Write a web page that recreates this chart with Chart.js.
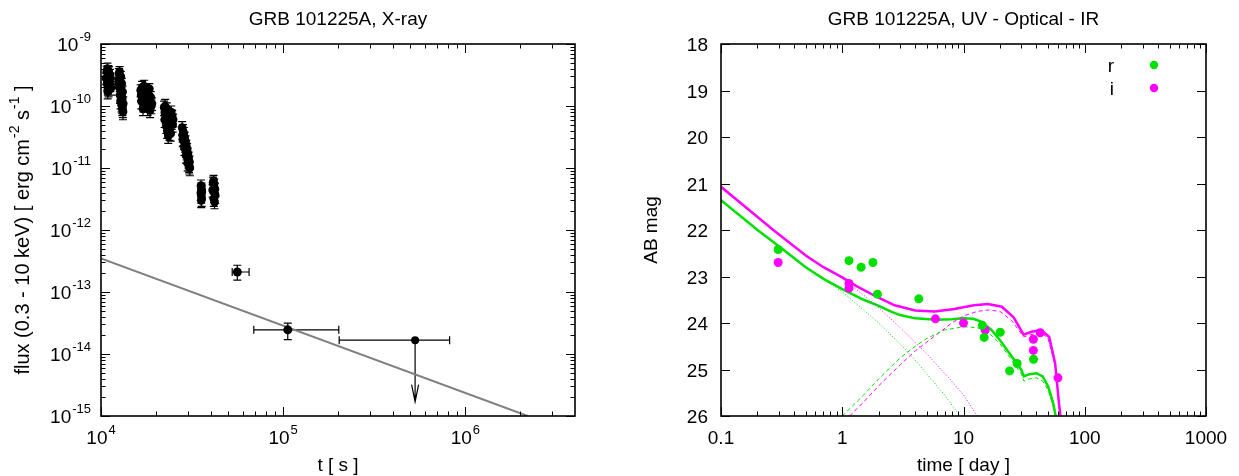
<!DOCTYPE html>
<html><head><meta charset="utf-8">
<script src="https://cdn.jsdelivr.net/npm/chart.js@4.4.1/dist/chart.umd.min.js"></script>
<style>
html,body{margin:0;padding:0;background:#fff;width:1239px;height:476px;overflow:hidden}
canvas{position:absolute;top:0}
#c1{left:0}
#c2{left:620px}
</style></head><body>
<canvas id="c1" width="620" height="476"></canvas>
<canvas id="c2" width="619" height="476"></canvas>
<script>
// ================= X-ray panel data =================
const blob1T=[10650,10750,10800,10850,10900,10950,11000,11050,11100,11150,11200,11250,11300,11350,10780,10880,10980,11080,11180,11280];
const blob1F=[2.8e-10,3.6e-10,2.3e-10,4.0e-10,2.0e-10,3.1e-10,1.8e-10,3.5e-10,2.6e-10,1.9e-10,3.2e-10,2.2e-10,2.8e-10,2.0e-10,2.9e-10,1.7e-10,3.7e-10,2.4e-10,2.7e-10,1.9e-10];
const blob1E=[0.6e-10,0.8e-10,0.5e-10,0.9e-10,0.5e-10,0.7e-10,0.4e-10,0.8e-10,0.6e-10,0.4e-10,0.7e-10,0.5e-10,0.6e-10,0.5e-10,0.6e-10,0.4e-10,0.8e-10,0.5e-10,0.6e-10,0.4e-10];
const blob2T=[12500,12550,12600,12650,12700,12750,12800,12850,12900,12950,13000,13050,13100,13150,13200,13250,12580,12680,12780,12880,12980,13080,13180];
const blob2F=[2.4e-10,3.3e-10,2.0e-10,3.6e-10,1.5e-10,2.6e-10,1.2e-10,3.0e-10,1.8e-10,1.1e-10,2.3e-10,1.4e-10,0.9e-10,1.7e-10,0.8e-10,1.1e-10,2.7e-10,2.2e-10,1.9e-10,1.3e-10,1.6e-10,1.0e-10,0.85e-10];
const blob2E=[0.5e-10,0.7e-10,0.5e-10,0.7e-10,0.4e-10,0.6e-10,0.3e-10,0.6e-10,0.4e-10,0.3e-10,0.5e-10,0.3e-10,0.2e-10,0.4e-10,0.2e-10,0.3e-10,0.6e-10,0.5e-10,0.4e-10,0.3e-10,0.4e-10,0.25e-10,0.2e-10];
const blob3T=[16500,16650,16800,16950,17100,17250,17400,17550,17700,17850,18000,18150,18300,18450,18600,18750,18900,19050,16600,17000,17400,17800,18200,18600];
const blob3F=[1.8e-10,1.2e-10,2.0e-10,1.4e-10,1.0e-10,2.1e-10,1.5e-10,1.1e-10,1.8e-10,1.3e-10,0.9e-10,1.6e-10,1.2e-10,1.9e-10,0.85e-10,1.4e-10,1.0e-10,1.1e-10,1.5e-10,0.9e-10,1.7e-10,1.0e-10,1.3e-10,1.2e-10];
const blob3E=[0.4e-10,0.3e-10,0.5e-10,0.3e-10,0.2e-10,0.5e-10,0.3e-10,0.25e-10,0.4e-10,0.3e-10,0.2e-10,0.35e-10,0.3e-10,0.4e-10,0.2e-10,0.3e-10,0.25e-10,0.25e-10,0.3e-10,0.2e-10,0.4e-10,0.2e-10,0.3e-10,0.3e-10];
const blob4T=[22200,22350,22500,22650,22800,22950,23100,23250,23400,23550,23700,23850,24000,24150,24300,24450,24600,24750,24900,22400,22900,23300,23800,24400];
const blob4F=[0.95e-10,0.6e-10,1.0e-10,0.7e-10,0.48e-10,0.9e-10,0.4e-10,0.75e-10,0.33e-10,0.55e-10,0.42e-10,0.65e-10,0.5e-10,0.36e-10,0.8e-10,0.55e-10,0.68e-10,0.5e-10,0.6e-10,0.8e-10,0.58e-10,0.45e-10,0.38e-10,0.7e-10];
const blob4E=[0.25e-10,0.15e-10,0.28e-10,0.17e-10,0.12e-10,0.22e-10,0.1e-10,0.18e-10,0.08e-10,0.13e-10,0.1e-10,0.16e-10,0.12e-10,0.09e-10,0.2e-10,0.13e-10,0.16e-10,0.12e-10,0.14e-10,0.2e-10,0.14e-10,0.11e-10,0.1e-10,0.17e-10];
const blob5T=[27900,28050,28200,28350,28500,28650,28800,28950,29100,29250,29400,29550,29700,29850,30000,30150,30300,30450,30600,30750,28100,28700,29300,29900,30500];
const blob5F=[4.5e-11,3.4e-11,4.0e-11,3.0e-11,3.6e-11,2.6e-11,3.1e-11,2.3e-11,2.7e-11,2.0e-11,2.3e-11,1.75e-11,2.0e-11,1.5e-11,1.7e-11,1.3e-11,1.45e-11,1.1e-11,1.25e-11,1.0e-11,2.9e-11,2.1e-11,1.6e-11,1.2e-11,1.05e-11];
const blob5E=[1.1e-11,0.8e-11,1.0e-11,0.7e-11,0.9e-11,0.6e-11,0.7e-11,0.5e-11,0.6e-11,0.5e-11,0.5e-11,0.4e-11,0.5e-11,0.35e-11,0.4e-11,0.3e-11,0.35e-11,0.25e-11,0.3e-11,0.25e-11,0.7e-11,0.5e-11,0.4e-11,0.3e-11,0.25e-11];
const blob6T=[35300,35400,35500,35600,35700,35800,35500,35650];
const blob6F=[4.0e-12,5.2e-12,3.6e-12,4.6e-12,3.2e-12,4.1e-12,3.0e-12,4.4e-12];
const blob6E=[1.0e-12,1.2e-12,0.9e-12,1.1e-12,0.8e-12,1.0e-12,0.7e-12,1.0e-12];
const blob7T=[41000,41200,41400,41600,41800,42000,42200,42400,41500,42100];
const blob7F=[4.4e-12,5.8e-12,4.2e-12,3.2e-12,5.5e-12,2.8e-12,4.6e-12,3.6e-12,6.2e-12,3.9e-12];
const blob7E=[1.0e-12,1.3e-12,1.0e-12,0.8e-12,1.2e-12,0.6e-12,1.1e-12,0.9e-12,1.4e-12,0.9e-12];
// isolated late points (time, flux, time range, flux range)
const lateT=[56000,106000];
const lateF=[2.1e-13,2.45e-14];
const lateTLo=[52500,69000];
const lateTHi=[65000,202000];
const lateFLo=[1.55e-13,1.7e-14];
const lateFHi=[2.7e-13,3.15e-14];
// upper limit
const ulT=[530000];
const ulF=[1.67e-14];
const ulTLo=[203000];
const ulTHi=[820000];
const ulArrowTo=[1.7e-15];
// grey power-law line
const plT=[1e4,2.2e6];
const plF=[3.47e-13,1e-15];
// axis ticks
const xrayXTicks=[1e4,1e5,1e6];
const xrayXExp=['4','5','6'];
const xrayYTicks=[1e-9,1e-10,1e-11,1e-12,1e-13,1e-14,1e-15];
const xrayYExp=['-9','-10','-11','-12','-13','-14','-15'];

// ================= Optical panel data =================
const rT=[0.296,1.136,1.43,1.79,1.95,4.28,14.3,14.8,20.1,24.0,27.7,37.8];
const rMag=[22.42,22.66,22.80,22.70,23.38,23.48,24.05,24.31,24.20,25.03,24.87,24.78];
const iT=[0.296,1.136,1.136,5.87,10.0,15.1,37.7,37.7,42.9,60.1];
const iMag=[22.70,23.15,23.25,23.91,24.00,24.15,24.35,24.59,24.21,25.18];
// model: total (solid)
const rTotT=[0.1,0.2,0.3,0.5,0.7,1,1.5,2,2.5,3,4,6,8,10,12,14,17,20,25,30,31.5,35,40,45,50,55,58];
const rTotMag=[21.36,22.0,22.35,22.8,23.05,23.27,23.5,23.63,23.75,23.83,23.9,23.93,23.92,23.9,23.91,23.97,24.15,24.37,24.72,25.01,25.15,25.1,25.08,25.15,25.37,25.73,26.05];
const iTotT=[0.1,0.27,0.5,0.7,1,1.3,1.9,2.7,4,5.8,8.4,12.2,15.9,20.7,25.9,31.3,36.3,43.8,50.9,57.0,61.4,63.8];
const iTotMag=[21.07,22.0,22.55,22.8,23.02,23.2,23.43,23.62,23.73,23.75,23.70,23.62,23.59,23.65,23.88,24.25,24.19,24.15,24.3,24.87,25.75,26.1];
// model: supernova (dashed)
const rSnT=[1.0,1.5,2,3,4,5,7,10,13,16,20,25,30,31.5,35,40,45,50,55,58];
const rSnMag=[26.0,25.55,25.2,24.75,24.5,24.33,24.15,24.08,24.1,24.2,24.45,24.8,25.1,25.25,25.2,25.18,25.25,25.45,25.8,26.05];
const iSnT=[1.15,1.5,2,3,4,6,8,10,13,16,20,25,31.3,36,44,50,57,62,64];
const iSnMag=[26.0,25.7,25.35,24.9,24.6,24.25,24.0,23.85,23.75,23.72,23.75,23.95,24.3,24.25,24.2,24.35,24.9,25.8,26.1];
// model: afterglow (dotted)
const rAgT=[0.1,0.2,0.3,0.5,0.7,1,1.5,2,3,4,5,7,9.3];
const rAgMag=[21.36,22.0,22.35,22.8,23.06,23.33,23.72,24.0,24.45,24.8,25.1,25.55,26.0];
const iAgT=[0.1,0.27,0.5,0.7,1,1.5,2,3,5,8,10,13];
const iAgMag=[21.07,22.0,22.55,22.8,23.04,23.4,23.67,24.1,24.67,25.25,25.55,26.0];
const optXTicks=[0.1,1,10,100,1000];
const optXLabels=['0.1','1','10','100','1000'];
const optYTicks=[18,19,20,21,22,23,24,25,26];

// ================= helpers =================
const FONT='"Liberation Sans", Arial, Helvetica, sans-serif';
const BIG='19px '+FONT, SMALL='13px '+FONT, YT='20px '+FONT, YTS='14px '+FONT;
const GREEN='#00e000', MAGENTA='#ff00ff';
const zip=(a,b)=>a.map((v,i)=>({x:v,y:b[i]}));

function minorLog(min,max){
  const out=[];
  for(let e=Math.floor(Math.log10(min));e<=Math.ceil(Math.log10(max));e++){
    for(let k=2;k<=9;k++){const v=k*Math.pow(10,e); if(v>min&&v<max) out.push(v);}
  }
  return out;
}
function drawPow(ctx,base,exp,x,yc,align){
  ctx.font=BIG; const wb=ctx.measureText(base).width;
  ctx.font=SMALL; const we=ctx.measureText(exp).width;
  let x0 = align==='right' ? x-wb-we-1 : align==='center' ? x-(wb+we+1)/2 : x;
  ctx.textAlign='left'; ctx.textBaseline='alphabetic';
  ctx.font=BIG; ctx.fillText(base,x0,yc+7);
  ctx.font=SMALL; ctx.fillText(exp,x0+wb+1,yc-3);
}
function frame(chart,xMaj,xMin,yMaj,yMin){
  const {ctx,chartArea:a,scales:{x,y}}=chart;
  ctx.save();
  ctx.strokeStyle='#000'; ctx.lineWidth=1;
  ctx.beginPath();
  const MJ=9, MN=4.5;
  const vt=(v,len)=>{const p=Math.round(x.getPixelForValue(v))+0.5; ctx.moveTo(p,a.bottom);ctx.lineTo(p,a.bottom-len);ctx.moveTo(p,a.top);ctx.lineTo(p,a.top+len);};
  const ht=(v,len)=>{const p=Math.round(y.getPixelForValue(v))+0.5; ctx.moveTo(a.left,p);ctx.lineTo(a.left+len,p);ctx.moveTo(a.right,p);ctx.lineTo(a.right-len,p);};
  xMaj.forEach(v=>vt(v,MJ)); xMin.forEach(v=>vt(v,MN));
  yMaj.forEach(v=>ht(v,MJ)); yMin.forEach(v=>ht(v,MN));
  ctx.stroke();
  ctx.lineWidth=1.6;
  ctx.strokeRect(a.left,a.top,a.right-a.left,a.bottom-a.top);
  ctx.restore();
}

// ================= X-ray chart =================
const blobT=[].concat(blob1T,blob2T,blob3T,blob4T,blob5T,blob6T,blob7T);
const blobF=[].concat(blob1F,blob2F,blob3F,blob4F,blob5F,blob6F,blob7F);
const blobE=[].concat(blob1E,blob2E,blob3E,blob4E,blob5E,blob6E,blob7E);

const xrayPlugin={
  id:'xray',
  beforeDatasetsDraw(chart){
    const {ctx,scales:{x,y}}=chart;
    ctx.save(); ctx.strokeStyle='#000'; ctx.lineWidth=1.2;
    ctx.beginPath();
    blobT.forEach((t,i)=>{
      const px=x.getPixelForValue(t);
      const y1=y.getPixelForValue(blobF[i]+blobE[i]), y2=y.getPixelForValue(Math.max(blobF[i]-blobE[i],1e-16));
      ctx.moveTo(px,y1);ctx.lineTo(px,y2);
      ctx.moveTo(px-4,y1);ctx.lineTo(px+4,y1);ctx.moveTo(px-4,y2);ctx.lineTo(px+4,y2);
    });
    lateT.forEach((t,i)=>{
      const px=x.getPixelForValue(t), py=y.getPixelForValue(lateF[i]);
      const xa=x.getPixelForValue(lateTLo[i]), xb=x.getPixelForValue(lateTHi[i]);
      const ya=y.getPixelForValue(lateFHi[i]), yb=y.getPixelForValue(lateFLo[i]);
      ctx.moveTo(xa,py);ctx.lineTo(xb,py);ctx.moveTo(xa,py-4);ctx.lineTo(xa,py+4);ctx.moveTo(xb,py-4);ctx.lineTo(xb,py+4);
      ctx.moveTo(px,ya);ctx.lineTo(px,yb);ctx.moveTo(px-4,ya);ctx.lineTo(px+4,ya);ctx.moveTo(px-4,yb);ctx.lineTo(px+4,yb);
    });
    ulT.forEach((t,i)=>{
      const px=x.getPixelForValue(t), py=y.getPixelForValue(ulF[i]);
      const xa=x.getPixelForValue(ulTLo[i]), xb=x.getPixelForValue(ulTHi[i]);
      const yb=y.getPixelForValue(ulArrowTo[i]);
      ctx.moveTo(xa,py);ctx.lineTo(xb,py);ctx.moveTo(xa,py-4);ctx.lineTo(xa,py+4);ctx.moveTo(xb,py-4);ctx.lineTo(xb,py+4);
      ctx.moveTo(px,py);ctx.lineTo(px,yb);
      ctx.moveTo(px-3.5,yb-17);ctx.lineTo(px,yb);ctx.lineTo(px+3.5,yb-17);
    });
    ctx.stroke(); ctx.restore();
  },
  afterDraw(chart){
    const {ctx,chartArea:a,scales:{x,y}}=chart;
    frame(chart,xrayXTicks,minorLog(1e4,4e6),xrayYTicks,minorLog(1e-15,1e-9));
    ctx.save(); ctx.fillStyle='#000';
    xrayXTicks.forEach((v,i)=>drawPow(ctx,'10',xrayXExp[i],x.getPixelForValue(v),437,'center'));
    xrayYTicks.forEach((v,i)=>drawPow(ctx,'10',xrayYExp[i],a.left-10,y.getPixelForValue(v),'right'));
    ctx.font=BIG; ctx.textAlign='center'; ctx.textBaseline='alphabetic';
    ctx.fillText('GRB 101225A, X-ray',(a.left+a.right)/2,25);
    ctx.fillText('t [ s ]',(a.left+a.right)/2,471);
    const parts=[['flux (0.3 - 10 keV) [ erg cm',0],['-2',1],[' s',0],['-1',1],[' ]',0]];
    let tot=0; parts.forEach(p=>{ctx.font=p[1]?YTS:YT; tot+=ctx.measureText(p[0]).width+(p[1]?1:0);});
    ctx.translate(22,(a.top+a.bottom)/2); ctx.rotate(-Math.PI/2);
    let cx=-tot/2; ctx.textAlign='left';
    parts.forEach(p=>{ctx.font=p[1]?YTS:YT; ctx.fillText(p[0],cx+(p[1]?1:0),p[1]?-3:7); cx+=ctx.measureText(p[0]).width+(p[1]?1:0);});
    ctx.restore();
  }
};

new Chart(document.getElementById('c1'),{
  type:'scatter',
  data:{datasets:[
    {data:zip(plT,plF),showLine:true,borderColor:'#808080',borderWidth:2,pointRadius:0,order:3},
    {data:zip(blobT,blobF),backgroundColor:'#000',borderColor:'#000',pointRadius:4.3,borderWidth:0,order:1},
    {data:zip(lateT,lateF),backgroundColor:'#000',borderColor:'#000',pointRadius:4.5,borderWidth:0,order:1},
    {data:zip(ulT,ulF),backgroundColor:'#000',borderColor:'#000',pointRadius:4,borderWidth:0,order:1}
  ]},
  options:{
    responsive:false,animation:false,devicePixelRatio:1,
    layout:{padding:{left:101,right:45,top:44,bottom:60}},
    plugins:{legend:{display:false},title:{display:false},tooltip:{enabled:false}},
    scales:{
      x:{type:'logarithmic',min:1e4,max:4e6,display:false},
      y:{type:'logarithmic',min:1e-15,max:1e-9,display:false}
    }
  },
  plugins:[xrayPlugin]
});

// ================= Optical chart =================
const optPlugin={
  id:'opt',
  afterDraw(chart){
    const {ctx,chartArea:a,scales:{x,y}}=chart;
    frame(chart,optXTicks,minorLog(0.1,1000),optYTicks,[]);
    ctx.save(); ctx.fillStyle='#000'; ctx.font=BIG; ctx.textBaseline='alphabetic';
    ctx.textAlign='center';
    optXTicks.forEach((v,i)=>ctx.fillText(optXLabels[i],x.getPixelForValue(v),444));
    ctx.textAlign='right';
    optYTicks.forEach(v=>ctx.fillText(String(v),a.left-13,y.getPixelForValue(v)+7));
    ctx.textAlign='center';
    ctx.fillText('GRB 101225A, UV - Optical - IR',(a.left+a.right)/2,25);
    ctx.fillText('time [ day ]',(a.left+a.right)/2,471);
    ctx.textAlign='right';
    ctx.fillText('r',494,72); ctx.fillText('i',494,95);
    ctx.fillStyle=GREEN; ctx.beginPath(); ctx.arc(534,65,4.2,0,Math.PI*2); ctx.fill();
    ctx.fillStyle=MAGENTA; ctx.beginPath(); ctx.arc(534,88,4.2,0,Math.PI*2); ctx.fill();
    ctx.fillStyle='#000';
    ctx.translate(30,(a.top+a.bottom)/2); ctx.rotate(-Math.PI/2);
    ctx.textAlign='center'; ctx.fillText('AB mag',0,7);
    ctx.restore();
  }
};
const line=(t,m,c,w,dash)=>({data:zip(t,m),showLine:true,borderColor:c,borderWidth:w,borderDash:dash,pointRadius:0,order:2});
new Chart(document.getElementById('c2'),{
  type:'scatter',
  data:{datasets:[
    line(rAgT,rAgMag,GREEN,1,[1,2]),
    line(iAgT,iAgMag,MAGENTA,1,[1,2]),
    line(rSnT,rSnMag,GREEN,1,[4,3]),
    line(iSnT,iSnMag,MAGENTA,1,[4,3]),
    line(rTotT,rTotMag,GREEN,2.5,[]),
    line(iTotT,iTotMag,MAGENTA,2.5,[]),
    {data:zip(rT,rMag),backgroundColor:GREEN,pointRadius:4.5,borderWidth:0,order:1},
    {data:zip(iT,iMag),backgroundColor:MAGENTA,pointRadius:4.5,borderWidth:0,order:1}
  ]},
  options:{
    responsive:false,animation:false,devicePixelRatio:1,
    layout:{padding:{left:101,right:33,top:44,bottom:60}},
    plugins:{legend:{display:false},title:{display:false},tooltip:{enabled:false}},
    scales:{
      x:{type:'logarithmic',min:0.1,max:1000,display:false},
      y:{type:'linear',min:18,max:26,reverse:true,display:false}
    }
  },
  plugins:[optPlugin]
});
</script>
</body></html>
